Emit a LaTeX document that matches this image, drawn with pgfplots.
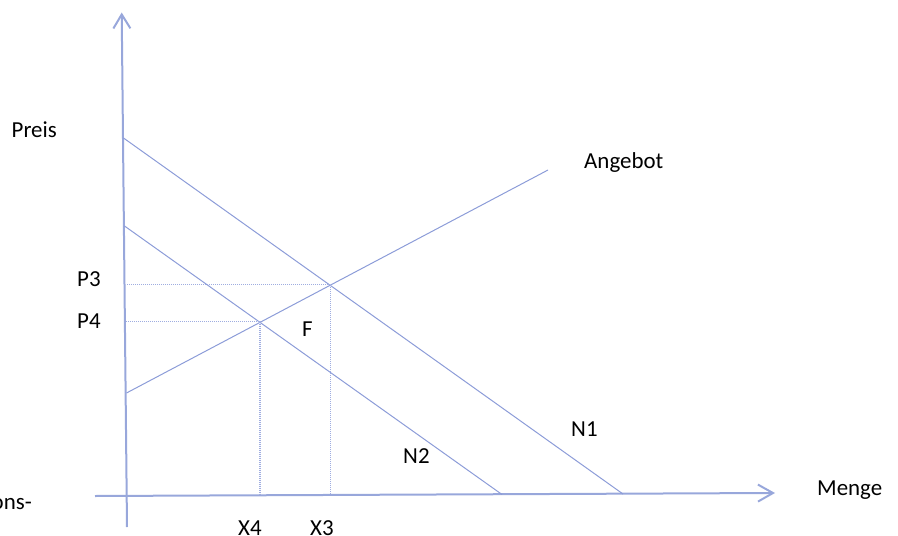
\documentclass[border=0pt]{standalone}
\usepackage{pgfplots}
\pgfplotsset{compat=1.18}
\usepackage{fontspec}
\setmainfont{Carlito}
\usetikzlibrary{arrows.meta}
\definecolor{ax}{HTML}{98A7DB}
\definecolor{ln}{HTML}{8C9CD8}
\definecolor{dt}{HTML}{9FADE0}
\tikzset{lbl/.style={font=\fontsize{23}{27}\selectfont, inner sep=0pt, text=black}}
\begin{document}
\begin{tikzpicture}
\begin{axis}[hide axis, scale only axis, width=898bp, height=536bp,
  xmin=0, xmax=898, ymin=0, ymax=536, y dir=reverse, clip=false]
% axes
\addplot[ax, line width=2bp, -{Straight Barb[length=14bp,width=17bp]}] coordinates {(127,527) (121.7,12.5)};
\addplot[ax, line width=2bp, -{Straight Barb[length=15bp,width=17bp]}] coordinates {(95,496) (775,493)};
% demand N1, N2 and supply
\addplot[ln, line width=1bp] coordinates {(123.5,138) (623,494)};
\addplot[ln, line width=1bp] coordinates {(124.5,226) (502,494.5)};
\addplot[ln, line width=1bp] coordinates {(126.5,393) (548,170)};
% dotted helper lines
\addplot[dt, line width=1.1bp, dash pattern=on 1bp off 1bp] coordinates {(127,284.5) (330.5,284.5) (330.5,494)};
\addplot[dt, line width=1.1bp, dash pattern=on 1bp off 1bp] coordinates {(126,321.5) (260,321.5) (260,495)};
% labels
\node[lbl, anchor=base east] at (axis cs:57,137.5) {Preis};
\node[lbl, anchor=base west] at (axis cs:584,168.3) {Angebot};
\node[lbl, anchor=base west] at (axis cs:77,286) {P3};
\node[lbl, anchor=base west] at (axis cs:77,328) {P4};
\node[lbl, anchor=base west] at (axis cs:302,336) {F};
\node[lbl, anchor=base west] at (axis cs:571,436.5) {N1};
\node[lbl, anchor=base west] at (axis cs:403,463) {N2};
\node[lbl, anchor=base west] at (axis cs:238,535) {X4};
\node[lbl, anchor=base west] at (axis cs:310,535) {X3};
\node[lbl, anchor=base west] at (axis cs:817,495.7) {Menge};
\node[lbl, anchor=base east] at (axis cs:32,509.5) {ons-};
\coordinate (BL) at (axis cs:0,536);
\coordinate (TR) at (axis cs:898,0);
\end{axis}
\pgfresetboundingbox
\useasboundingbox (BL) rectangle (TR);
\end{tikzpicture}
\end{document}
